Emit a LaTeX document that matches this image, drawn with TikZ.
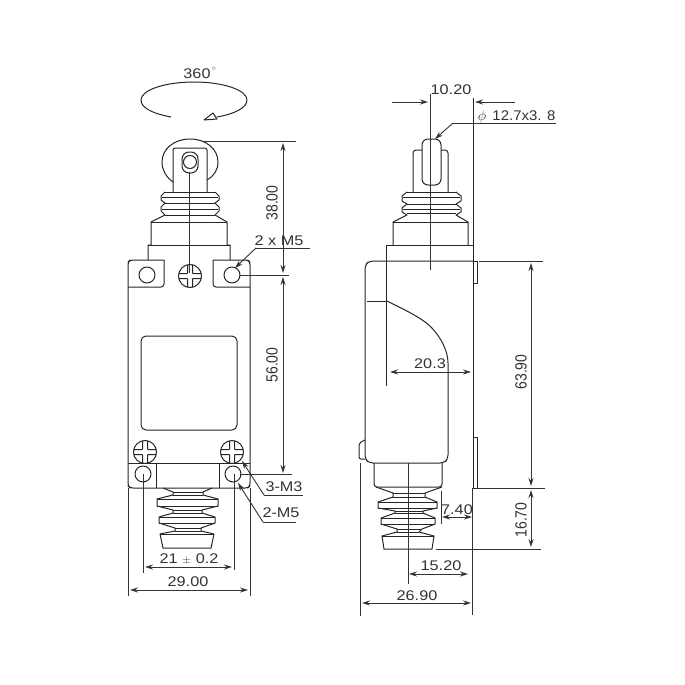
\documentclass[tikz,border=0pt]{standalone}
\usepackage{fontspec}
\setmainfont{Liberation Sans}
\usetikzlibrary{arrows.meta}
\newcommand\hz[1]{\scalebox{1.16}[1]{#1}}
\newcommand\vt[1]{\scalebox{1}[1.16]{#1}}
\tikzset{
  part/.style={line width=1pt,draw=black!85,line join=round},
  dimline/.style={line width=0.9pt,draw=black!80},
  dimboth/.style={dimline,{Stealth[length=8pt,width=5pt]}-{Stealth[length=8pt,width=5pt]}},
  dimend/.style={dimline,-{Stealth[length=8pt,width=5pt]}},
  lbl/.style={font=\fontsize{14}{14}\selectfont,text=black!80,inner sep=0pt},
  rlbl/.style={lbl,rotate=90}
}
\begin{document}
\begin{tikzpicture}[x=1pt,y=-1pt]
\useasboundingbox (0,0) rectangle (685,685);
\fill[white] (0,0) rectangle (685,685);
% ---- rotation symbol
\node[lbl] (t360) at (197,74) {\hz{360}};
\node[lbl,font=\fontsize{7}{7}\selectfont] (tdeg) at (214,69) {$\circ$};
\draw[part] (171,117) .. controls (150,113) and (141,107) .. (141,100)
  .. controls (141,90) and (165,82) .. (194,82)
  .. controls (223,82) and (247,90) .. (247,100)
  .. controls (247,108) and (234,114) .. (217,117);
\draw[part,fill=white] (204,120) -- (213,113) -- (217,119) -- cycle;
% ---- left view, roller
\draw[part] (173,182) .. controls (166,177) and (162,170) .. (162,162)
  .. controls (162,149) and (174,139) .. (190,139)
  .. controls (206,139) and (218,149) .. (218,162)
  .. controls (218,170) and (214,176) .. (207,180);
\draw[part,rounded corners=2pt] (173,192) -- (173,148) -- (207,148) -- (207,192);
\draw[part,rounded corners=7pt] (182,152) rectangle (198,173);
\draw[part] (190,162) circle (6.5);
% upper bellows left
\draw[part] (165,192) -- (161,196) -- (161,200) -- (165,203) -- (161,207) -- (161,211) -- (165,215) -- (151,222) -- (151,245) -- (148,245) -- (148,260);
\draw[part] (215,192) -- (219,196) -- (219,200) -- (215,203) -- (219,207) -- (219,211) -- (215,215) -- (227,222) -- (227,245) -- (230,245) -- (230,260);
\draw[part] (165,192) -- (215,192) (162,197) -- (218,197) (165,203) -- (215,203) (162,209) -- (218,209) (165,215) -- (215,215)
  (151,222) -- (227,222) (148,245) -- (230,245);
% plate
\draw[part,rounded corners=3pt] (164,260) -- (130,260) -- (128,262) -- (128,486) -- (130,488) -- (248,488) -- (250,486) -- (250,262) -- (248,260) -- (213,260);
\draw[part,rounded corners=3pt] (164,260) -- (164,287) -- (128,287);
\draw[part,rounded corners=3pt] (213,260) -- (213,287) -- (250,287);
\draw[part] (147,275) ellipse (8 and 8);
\draw[part] (232,275) ellipse (8 and 8);
\draw[part,rounded corners=5pt] (141,336) rectangle (237,430);
% screws
\foreach \cx/\cy in {190/276,145/452,232/452}{
  \draw[part] (\cx,\cy) circle (11.5);
  \draw[part,rounded corners=0.5pt] (\cx-2.5,\cy-11.3) -- (\cx-2.5,\cy-2.5) -- (\cx-11.3,\cy-2.5) (\cx+2.5,\cy-11.3) -- (\cx+2.5,\cy-2.5) -- (\cx+11.3,\cy-2.5)
    (\cx-2.5,\cy+11.3) -- (\cx-2.5,\cy+2.5) -- (\cx-11.3,\cy+2.5) (\cx+2.5,\cy+11.3) -- (\cx+2.5,\cy+2.5) -- (\cx+11.3,\cy+2.5);
}
\draw[part] (128,463) -- (250,463);
\draw[part] (156,463) -- (156,488) (219,463) -- (219,488);
\draw[part] (143,474) ellipse (8 and 8);
\draw[part] (233,474) ellipse (8 and 8);
% lower bellows left
\draw[part] (163,488) -- (173,492) -- (173,495) -- (157,499) -- (157,506) -- (173,510) -- (173,513) -- (159,517) -- (159,523) -- (175,528) -- (175,531) -- (160,534) -- (163,548)
  -- (211,548) -- (214,534) -- (201,531) -- (201,528) -- (215,523) -- (215,517) -- (202,513) -- (202,510) -- (218,506) -- (218,499) -- (203,495) -- (203,492) -- (212,488);
\draw[part] (173,492) -- (203,492) (173,495) -- (203,495) (157,499) -- (218,499) (157,506) -- (218,506) (173,510) -- (202,510) (173,513) -- (202,513) (159,517) -- (215,517) (159,523) -- (215,523) (175,528) -- (201,528) (175,531) -- (201,531) (160,534) -- (214,534);
% left dims
\draw[dimline] (189,172) -- (189,273);
\draw[dimline] (202,141) -- (296,141);
\draw[dimline] (240,275) -- (289,275);
\draw[dimline] (240,474) -- (292,474);
\draw[dimboth] (283,143) -- (283,273);
\draw[dimboth] (283,277) -- (283,473);
\node[rlbl] (t38) at (272,203) {\vt{38.00}};
\node[rlbl] (t56) at (272,365) {\vt{56.00}};
\node[lbl] (tm5) at (279,241) {\hz{2 x M5}};
\draw[dimline] (310,248) -- (256,248);
\draw[dimend] (256,248) -- (235,268);
\node[lbl] (tm3) at (284,487) {\hz{3-M3}};
\draw[dimline] (303,495) -- (264,495);
\draw[dimend] (264,495) -- (242,461);
\node[lbl] (tm5b) at (281,513) {\hz{2-M5}};
\draw[dimline] (296,522) -- (263,522);
\draw[dimend] (263,522) -- (238,483);
\draw[dimline] (143,474) -- (143,573);
\draw[dimline] (234,474) -- (234,570);
\draw[dimboth] (145,567) -- (232,567);
\node[lbl] (t21) at (189,559) {\hz{21 {\fontsize{10}{10}\selectfont$\pm$} 0.2}};
\draw[dimline] (128,488) -- (128,596);
\draw[dimline] (250,488) -- (250,596);
\draw[dimboth] (130,590) -- (248,590);
\node[lbl] (t29) at (188,582) {\hz{29.00}};
% ---- right view
\draw[part,rounded corners=6pt] (422,139) rectangle (441,185);
\draw[part,rounded corners=3pt] (422,150) -- (413,150) -- (413,192);
\draw[part,rounded corners=3pt] (441,150) -- (448,150) -- (448,192);
\draw[part] (407,192) -- (402,196) -- (402,201) -- (407,204) -- (402,208) -- (402,212) -- (407,215) -- (393,222) -- (393,245);
\draw[part] (456,192) -- (461,196) -- (461,201) -- (456,204) -- (461,208) -- (461,212) -- (456,215) -- (468,222) -- (468,245);
\draw[part] (407,192) -- (456,192) (403,197) -- (460,197) (407,204) -- (456,204) (403,209) -- (460,209) (407,213) -- (456,213) (393,222) -- (468,222);
\draw[part] (386,245) -- (473,245);
\draw[part] (386,245) -- (386,386);
\draw[part,rounded corners=4pt] (473,261) -- (369,261) -- (365,265) -- (365,459) -- (369,463) -- (444,463) -- (448,459) -- (448,363);
\draw[part] (473,98) -- (473,488);
\draw[part] (473,261) -- (477,261) -- (477,283) -- (473,283);
\draw[part] (367,301) -- (387,301);
\draw[part] (387,301) .. controls (405,310) and (420,317) .. (430,326) .. controls (440,336) and (448,350) .. (448,363);
\draw[part,rounded corners=2pt] (365,440) -- (359,443) -- (359,459) -- (365,459);
\draw[part] (473,437) -- (477,437) -- (477,488);
\draw[part,rounded corners=3pt] (374,463) -- (374,487) -- (442,487) -- (442,463);
% right lower bellows
\draw[part] (376,487) -- (393,493) -- (393,497) -- (378,502) -- (378,508) -- (395,511) -- (395,513) -- (381,518) -- (381,524) -- (397,529) -- (397,532) -- (382,536) -- (384,549)
  -- (432,549) -- (434,536) -- (419,532) -- (422,529) -- (435,524) -- (435,518) -- (423,513) -- (423,511) -- (437,508) -- (437,502) -- (425,497) -- (425,493) -- (442,487);
\draw[part] (393,493) -- (425,493) (393,497) -- (425,497) (378,502) -- (437,502) (378,508) -- (437,508) (395,511) -- (423,511) (395,513) -- (423,513) (381,518) -- (435,518) (381,524) -- (435,524) (397,529) -- (422,529) (397,532) -- (419,532) (382,536) -- (434,536);
% right dims
\draw[dimline] (430,94) -- (430,270);
\draw[dimline] (408,463) -- (408,584);
\node[lbl] (t102) at (451,90) {\hz{10.20}};
\draw[dimend] (392,102) -- (428,102);
\draw[dimend] (515,102) -- (475,102);
\node[lbl] (tphi) at (482,117) {{\fontsize{14}{14}\selectfont$\phi$}};
\node[lbl] (t127) at (524,116) {\scalebox{1.07}[1]{12.7x3. 8}};
\draw[dimline] (556,123) -- (453,123);
\draw[dimend] (453,123) -- (435,139);
\draw[dimline] (479,261) -- (543,261);
\draw[dimline] (473,488) -- (545,488);
\draw[dimline] (436,549) -- (541,549);
\draw[dimboth] (531,263) -- (531,486);
\draw[dimboth] (531,490) -- (531,547);
\node[rlbl] (t639) at (521,372) {\vt{63.90}};
\node[rlbl] (t167) at (521,520) {\vt{16.70}};
\draw[dimboth] (390,372) -- (471,372);
\node[lbl] (t203) at (430,364) {\hz{20.3}};
\draw[dimline] (441,491) -- (441,524);
\draw[dimboth] (442,517) -- (472,517);
\node[lbl] (t74) at (457,510) {\hz{7.40}};
\draw[dimboth] (409,574) -- (468,574);
\node[lbl] (t152) at (441,566) {\hz{15.20}};
\draw[dimline] (360,463) -- (360,616);
\draw[dimline] (472.5,488) -- (472.5,615);
\draw[dimboth] (362,603) -- (471,603);
\node[lbl] (t269) at (417,596) {\hz{26.90}};
\end{tikzpicture}
\end{document}
